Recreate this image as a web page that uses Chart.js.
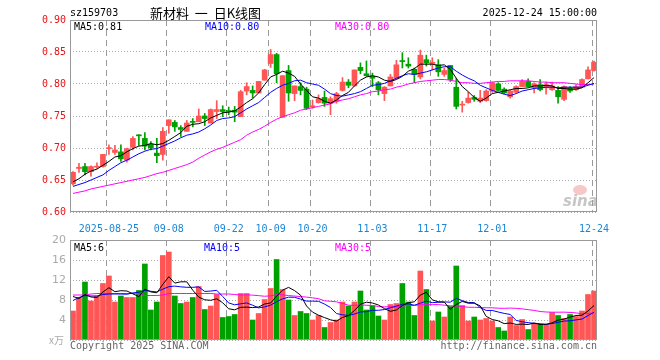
<!DOCTYPE html>
<html>
<head>
<meta charset="utf-8">
<script src="https://cdn.jsdelivr.net/npm/chart.js@4/dist/chart.umd.min.js"></script>
<style>
body { margin: 0; background: #fff; }
#wrap { position: relative; width: 660px; height: 360px; overflow: hidden; font-family: "DejaVu Sans Mono", monospace; font-size: 10px; }
#kc { position: absolute; left: 0; top: 0; }
#vc { position: absolute; left: 0; top: 226px; }
.t { position: absolute; white-space: pre; line-height: 12px; }
</style>
</head>
<body>
<div id="wrap">
  <canvas id="kc" width="660" height="236"></canvas>
  <canvas id="vc" width="660" height="134"></canvas>
  <div class="t" style="left:70px;top:7px;color:#000">sz159703</div>
  <div class="t" style="left:150px;top:4px;font-family:'Noto Sans CJK SC';font-size:13px;line-height:17px;color:#000">新材料  一  日K线图</div>
  <div class="t" style="right:63px;top:7px;color:#000">2025-12-24 15:00:00</div>
  <div class="t" style="left:74px;top:21px;color:#000">MA5:0.81</div>
  <div class="t" style="left:205px;top:21px;color:#0000ff">MA10:0.80</div>
  <div class="t" style="left:335px;top:21px;color:#ff00ff">MA30:0.80</div>
  <div class="t" style="left:74px;top:242px;color:#000">MA5:6</div>
  <div class="t" style="left:204px;top:242px;color:#0000ff">MA10:5</div>
  <div class="t" style="left:335px;top:242px;color:#ff00ff">MA30:5</div>
  <div class="t" style="left:49px;top:334px;color:#aaa;font-family:'Noto Sans CJK SC';font-size:10px">x万</div>
  <div class="t" style="left:70px;top:340px;color:#666">Copyright 2025 SINA.COM</div>
  <div class="t" style="right:63px;top:340px;color:#666">http://finance.sina.com.cn</div>
</div>
<script>
const dates = [
  '2025-08-15','2025-08-18','2025-08-19','2025-08-20','2025-08-21','2025-08-22','2025-08-25','2025-08-26','2025-08-27','2025-08-28','2025-08-29',
  '2025-09-01','2025-09-02','2025-09-03','2025-09-04','2025-09-05','2025-09-08','2025-09-09','2025-09-10','2025-09-11','2025-09-12',
  '2025-09-15','2025-09-16','2025-09-17','2025-09-18','2025-09-19','2025-09-22','2025-09-23','2025-09-24','2025-09-25','2025-09-26',
  '2025-09-29','2025-09-30','2025-10-09','2025-10-10','2025-10-13','2025-10-14','2025-10-15','2025-10-16','2025-10-17','2025-10-20',
  '2025-10-21','2025-10-22','2025-10-23','2025-10-24','2025-10-27','2025-10-28','2025-10-29','2025-10-30','2025-10-31','2025-11-03',
  '2025-11-04','2025-11-05','2025-11-06','2025-11-07','2025-11-10','2025-11-11','2025-11-12','2025-11-13','2025-11-14','2025-11-17',
  '2025-11-18','2025-11-19','2025-11-20','2025-11-21','2025-11-24','2025-11-25','2025-11-26','2025-11-27','2025-11-28','2025-12-01',
  '2025-12-02','2025-12-03','2025-12-04','2025-12-05','2025-12-08','2025-12-09','2025-12-10','2025-12-11','2025-12-12','2025-12-15',
  '2025-12-16','2025-12-17','2025-12-18','2025-12-19','2025-12-22','2025-12-23','2025-12-24'
];
const tickDates = ['2025-08-25','2025-09-08','2025-09-22','2025-10-09','2025-10-20','2025-11-03','2025-11-17','2025-12-01','2025-12-24'];
const tickTexts = ['2025-08-25','09-08','09-22','10-09','10-20','11-03','11-17','12-01','12-24'];

const openP = [0.644,0.668,0.671,0.663,0.670,0.671,0.699,0.693,0.694,0.681,
  0.701,0.720,0.715,0.706,0.692,0.690,0.735,0.740,0.732,0.726,
  0.741,0.741,0.750,0.739,0.757,0.760,0.758,0.759,0.749,0.789,
  0.790,0.786,0.806,0.832,0.846,0.748,0.821,0.785,0.796,0.792,
  0.764,0.771,0.779,0.770,0.773,0.790,0.803,0.797,0.826,0.816,
  0.812,0.802,0.785,0.797,0.809,0.836,0.831,0.823,0.811,0.838,
  0.832,0.830,0.815,0.829,0.795,0.767,0.771,0.779,0.773,0.774,
  0.789,0.800,0.792,0.780,0.787,0.796,0.804,0.794,0.799,0.794,
  0.791,0.790,0.776,0.794,0.791,0.795,0.808,0.821];
const closeP = [0.662,0.670,0.663,0.671,0.671,0.690,0.700,0.697,0.683,0.699,
  0.715,0.719,0.703,0.700,0.688,0.726,0.744,0.733,0.729,0.739,
  0.740,0.750,0.746,0.760,0.760,0.757,0.757,0.756,0.788,0.796,
  0.786,0.804,0.822,0.846,0.816,0.813,0.786,0.797,0.790,0.762,
  0.766,0.777,0.770,0.777,0.785,0.803,0.798,0.822,0.821,0.813,
  0.809,0.791,0.795,0.811,0.830,0.835,0.828,0.815,0.845,0.833,
  0.834,0.819,0.821,0.807,0.765,0.768,0.778,0.776,0.778,0.789,
  0.802,0.790,0.786,0.789,0.796,0.804,0.796,0.800,0.791,0.799,
  0.797,0.780,0.796,0.789,0.796,0.807,0.822,0.834];
const highP = [0.663,0.676,0.676,0.672,0.677,0.690,0.705,0.704,0.705,0.700,
  0.718,0.721,0.724,0.710,0.715,0.732,0.744,0.743,0.735,0.743,
  0.746,0.761,0.754,0.761,0.774,0.766,0.764,0.765,0.790,0.802,
  0.797,0.804,0.823,0.854,0.848,0.813,0.829,0.797,0.802,0.795,
  0.775,0.783,0.789,0.780,0.787,0.810,0.807,0.822,0.833,0.836,
  0.817,0.804,0.796,0.815,0.837,0.849,0.841,0.825,0.853,0.845,
  0.841,0.838,0.825,0.829,0.809,0.773,0.787,0.782,0.790,0.791,
  0.803,0.802,0.794,0.790,0.797,0.807,0.808,0.802,0.807,0.803,
  0.803,0.796,0.797,0.796,0.799,0.808,0.827,0.836];
const lowP = [0.642,0.662,0.658,0.656,0.668,0.670,0.690,0.690,0.679,0.678,
  0.697,0.704,0.697,0.697,0.677,0.681,0.723,0.726,0.718,0.726,
  0.733,0.741,0.735,0.739,0.746,0.749,0.752,0.741,0.749,0.783,
  0.778,0.786,0.806,0.826,0.802,0.748,0.773,0.774,0.783,0.760,
  0.762,0.770,0.765,0.752,0.770,0.789,0.794,0.797,0.816,0.812,
  0.796,0.783,0.774,0.797,0.809,0.825,0.825,0.802,0.808,0.828,
  0.822,0.812,0.812,0.804,0.761,0.756,0.770,0.773,0.771,0.773,
  0.787,0.789,0.785,0.778,0.787,0.796,0.796,0.786,0.789,0.784,
  0.790,0.770,0.774,0.787,0.790,0.795,0.808,0.820];

const ma5 = [0.647,0.652,0.659,0.664,0.667,0.673,0.679,0.686,0.688,0.694,
  0.699,0.703,0.704,0.707,0.705,0.707,0.712,0.718,0.724,0.734,
  0.737,0.738,0.741,0.747,0.751,0.755,0.756,0.758,0.764,0.771,
  0.777,0.786,0.799,0.811,0.815,0.820,0.817,0.812,0.800,0.790,
  0.780,0.778,0.773,0.770,0.775,0.782,0.787,0.797,0.806,0.811,
  0.813,0.811,0.806,0.804,0.807,0.812,0.820,0.824,0.831,0.831,
  0.831,0.829,0.830,0.823,0.809,0.796,0.788,0.779,0.773,0.778,
  0.785,0.787,0.789,0.791,0.793,0.793,0.794,0.797,0.797,0.798,
  0.797,0.793,0.793,0.792,0.792,0.794,0.802,0.810];
const ma10 = [0.640,0.643,0.646,0.650,0.654,0.658,0.665,0.671,0.677,0.681,
  0.686,0.691,0.695,0.698,0.699,0.703,0.707,0.711,0.716,0.720,
  0.722,0.725,0.730,0.736,0.743,0.746,0.747,0.749,0.755,0.761,
  0.766,0.771,0.779,0.787,0.793,0.798,0.801,0.805,0.806,0.802,
  0.800,0.798,0.792,0.785,0.782,0.781,0.783,0.785,0.788,0.793,
  0.798,0.799,0.801,0.805,0.809,0.813,0.816,0.815,0.817,0.819,
  0.822,0.825,0.827,0.827,0.820,0.814,0.809,0.805,0.798,0.794,
  0.790,0.787,0.784,0.782,0.785,0.789,0.791,0.793,0.794,0.795,
  0.795,0.794,0.795,0.795,0.795,0.795,0.798,0.801];
const ma30 = [0.629,0.631,0.633,0.636,0.638,0.640,0.642,0.644,0.646,0.648,
  0.650,0.652,0.654,0.657,0.660,0.662,0.665,0.668,0.671,0.674,
  0.678,0.684,0.689,0.694,0.698,0.701,0.705,0.709,0.713,0.720,
  0.725,0.729,0.734,0.740,0.745,0.749,0.752,0.755,0.759,0.761,
  0.763,0.765,0.767,0.769,0.773,0.775,0.777,0.780,0.783,0.785,
  0.788,0.789,0.791,0.792,0.795,0.797,0.800,0.802,0.804,0.805,
  0.806,0.807,0.807,0.806,0.804,0.802,0.802,0.801,0.801,0.802,
  0.803,0.804,0.804,0.805,0.805,0.805,0.805,0.804,0.803,0.803,
  0.802,0.802,0.802,0.801,0.800,0.799,0.799,0.800];

// volume, unit: 万
const vol = [5.8,8.5,11.6,7.8,8.8,11.3,12.8,7.6,8.8,8.5,
  8.5,9.9,15.2,6.0,7.6,16.9,17.6,8.8,7.3,7.6,
  8.5,10.7,6.1,6.8,9.1,4.5,4.7,5.1,9.3,9.3,
  4.0,5.3,8.1,10.3,16.1,10.1,8.0,4.9,5.7,5.3,
  4.0,4.9,2.5,3.5,4.0,7.6,6.8,7.6,9.8,6.0,
  6.8,4.8,4.0,7.1,7.3,11.3,7.6,4.9,13.8,10.1,
  3.8,5.6,4.6,6.7,14.8,6.9,3.8,4.6,4.0,4.3,
  3.8,2.5,1.8,4.6,2.9,4.1,2.1,3.3,3.1,3.1,
  5.5,4.9,4.3,5.1,4.7,5.8,9.1,9.8];
const vma5 = [8.7,8.3,9.1,8.6,8.50,9.60,10.46,9.66,9.86,9.80,
  9.24,8.66,10.18,9.62,9.44,11.12,12.66,11.38,11.64,11.64,
  9.96,8.58,8.04,7.94,8.24,7.44,6.24,6.04,6.54,6.58,
  6.48,6.60,7.20,7.40,8.76,9.98,10.52,9.88,8.96,6.80,
  5.58,4.96,4.48,4.04,3.78,4.50,4.88,5.90,7.16,7.56,
  7.40,7.00,6.28,5.74,6.00,6.90,7.46,7.64,8.98,9.54,
  8.04,7.64,7.58,6.16,7.10,7.72,7.36,7.36,6.82,4.72,
  4.10,3.84,3.28,3.40,3.12,3.18,3.10,3.40,3.10,3.14,
  3.42,3.98,4.18,4.58,4.90,4.96,5.80,6.90];
const vma10 = [7.9,8.5,8.9,8.8,8.8,9.1,9.2,9.2,9.2,9.15,
  9.42,9.56,9.92,9.74,9.62,10.18,10.66,10.78,10.63,10.54,
  10.54,10.62,9.71,9.79,9.94,8.70,7.41,7.04,7.24,7.41,
  6.96,6.42,6.62,6.97,7.67,8.23,8.56,8.54,8.18,7.78,
  7.78,7.74,7.18,6.50,5.29,5.04,4.92,5.19,5.60,5.67,
  5.95,5.94,6.09,6.45,6.78,7.15,7.23,6.96,7.36,7.77,
  7.47,7.55,7.61,7.57,8.32,7.88,7.50,7.47,6.49,5.91,
  5.91,5.60,5.32,5.11,3.92,3.64,3.47,3.34,3.25,3.13,
  3.30,3.54,3.79,3.84,4.02,4.19,4.89,5.54];
const vma30 = [9.0,9.0,9.0,9.2,9.3,9.3,9.3,9.3,9.3,9.3,
  9.3,9.2,8.9,8.9,8.9,9.0,9.3,9.3,9.3,9.3,
  9.3,9.3,9.3,9.3,9.2,9.2,9.2,9.1,9.0,9.03,
  8.97,8.87,8.75,8.83,9.08,9.04,8.88,8.79,8.68,8.58,
  8.43,8.26,7.84,7.75,7.63,7.32,6.96,6.92,7.01,6.95,
  6.90,6.70,6.63,6.64,6.58,6.81,6.90,6.90,7.05,7.07,
  7.07,7.08,6.96,6.84,6.80,6.69,6.55,6.54,6.48,6.45,
  6.44,6.36,6.34,6.38,6.34,6.22,6.07,5.92,5.70,5.60,
  5.56,5.56,5.57,5.51,5.42,5.24,5.29,5.45];

const upColor = '#ff5555';
const downColor = '#00a000';
const mono = { family: 'DejaVu Sans Mono', size: 10 };
const candleColors = closeP.map((c, i) => c >= openP[i] ? upColor : downColor);
const gridIdx = tickDates.map(d => dates.indexOf(d));

// grey frame around plot area
const framePlugin = {
  id: 'frame',
  afterDraw(chart) {
    const a = chart.chartArea, c = chart.ctx;
    c.save();
    c.strokeStyle = '#999';
    c.lineWidth = 1;
    c.strokeRect(a.left + 0.5, a.top + 0.5, a.right - a.left - 1, a.bottom - a.top - 1);
    c.restore();
  }
};

// dashed vertical lines at the dated candles (left edge of the body)
const vGridPlugin = {
  id: 'vgrid',
  beforeDatasetsDraw(chart) {
    const x = chart.scales.x, a = chart.chartArea, c = chart.ctx;
    c.save();
    c.strokeStyle = '#999';
    c.lineWidth = 1;
    c.setLineDash([6, 4]);
    gridIdx.forEach(i => {
      const px = Math.round(x.getPixelForValue(i) - 2.5) + 0.5;
      c.beginPath();
      c.moveTo(px, a.top);
      c.lineTo(px, a.bottom);
      c.stroke();
    });
    c.restore();
  }
};

// sina logo watermark
const logoPlugin = {
  id: 'logo',
  beforeDatasetsDraw(chart) {
    const c = chart.ctx;
    c.save();
    c.fillStyle = 'rgba(240,130,130,0.45)';
    c.beginPath();
    c.ellipse(580, 190, 7, 5, 0, 0, Math.PI * 2);
    c.fill();
    c.font = 'italic bold 15px "DejaVu Sans"';
    c.fillStyle = 'rgba(160,160,160,0.6)';
    c.fillText('sina', 563, 206);
    c.restore();
  }
};

function lineSet(data, color) {
  return { type: 'line', data: data, borderColor: color, borderWidth: 1, pointRadius: 0, tension: 0, order: 0 };
}

function xAxis(showTicks) {
  return {
    offset: true,
    grid: { display: false },
    border: { display: false },
    ticks: {
      display: showTicks,
      autoSkip: false,
      maxRotation: 0,
      padding: 3,
      color: '#1a86d6',
      font: mono,
      callback: (v, i) => {
        const k = tickDates.indexOf(dates[i]);
        return k >= 0 ? tickTexts[k] : '';
      }
    },
    afterFit: s => { s.height = showTicks ? 24 : 0; }
  };
}

new Chart(document.getElementById('kc'), {
  type: 'bar',
  data: {
    labels: dates,
    datasets: [
      lineSet(ma5, '#000000'),
      lineSet(ma10, '#0000ff'),
      lineSet(ma30, '#ff00ff'),
      {
        data: openP.map((o, i) => [o, closeP[i]]),
        backgroundColor: candleColors,
        barThickness: 5,
        minBarLength: 1,
        grouped: false,
        order: 1
      },
      {
        data: lowP.map((l, i) => [l, highP[i]]),
        backgroundColor: candleColors,
        barThickness: 1,
        grouped: false,
        order: 2
      }
    ]
  },
  options: {
    responsive: false,
    animation: false,
    layout: { padding: { left: 0, right: 63, top: 20, bottom: 0 } },
    plugins: { legend: { display: false }, tooltip: { enabled: false } },
    scales: {
      x: xAxis(true),
      y: {
        min: 0.6,
        max: 0.9,
        ticks: { stepSize: 0.05, padding: 4, color: '#ee1111', font: mono, callback: v => v.toFixed(2) },
        grid: { color: '#aaa', drawTicks: false },
        border: { display: false, dash: [1, 2] },
        afterFit: s => { s.width = 70; }
      }
    }
  },
  plugins: [vGridPlugin, logoPlugin, framePlugin]
});

new Chart(document.getElementById('vc'), {
  type: 'bar',
  data: {
    labels: dates,
    datasets: [
      lineSet(vma5, '#000000'),
      lineSet(vma10, '#0000ff'),
      lineSet(vma30, '#ff00ff'),
      { data: vol, backgroundColor: candleColors, barThickness: 5, order: 1 }
    ]
  },
  options: {
    responsive: false,
    animation: false,
    layout: { padding: { left: 0, right: 63, top: 14, bottom: 20 } },
    plugins: { legend: { display: false }, tooltip: { enabled: false } },
    scales: {
      x: xAxis(false),
      y: {
        min: 0,
        max: 20,
        ticks: { stepSize: 4, padding: 4, color: '#aaa', font: { family: 'DejaVu Sans', size: 11 }, callback: v => v === 0 ? '' : v },
        grid: { color: '#aaa', drawTicks: false },
        border: { display: false, dash: [1, 2] },
        afterFit: s => { s.width = 70; }
      }
    }
  },
  plugins: [vGridPlugin, framePlugin]
});
</script>
</body>
</html>
